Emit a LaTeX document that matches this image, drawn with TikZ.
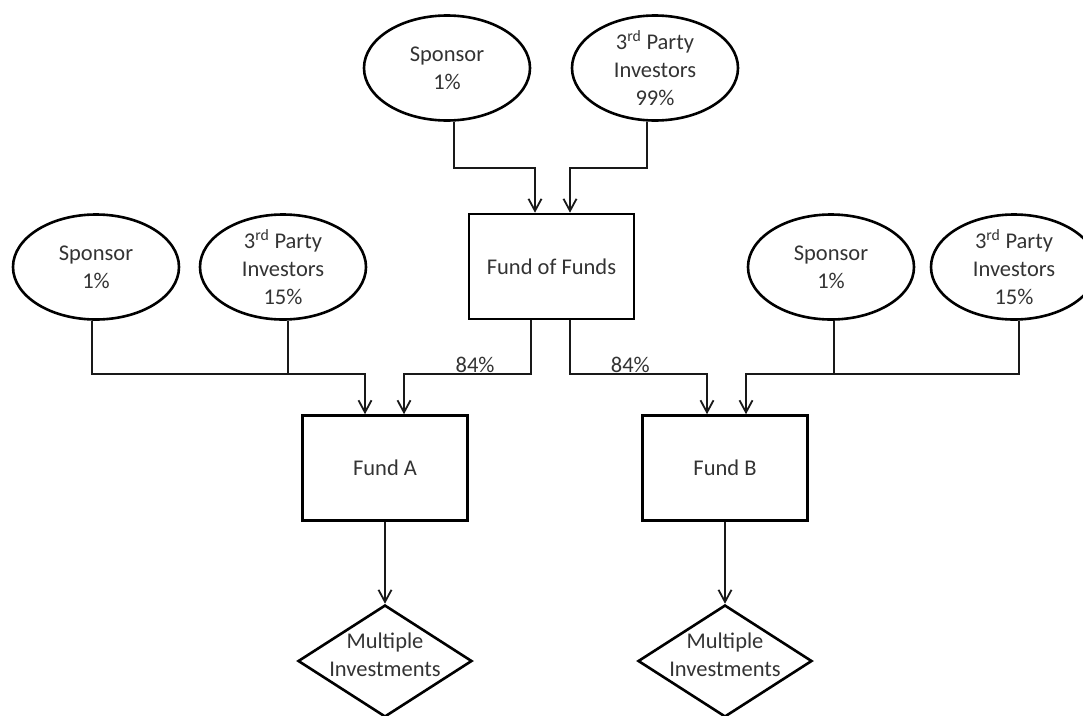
\documentclass[tikz,border=0pt]{standalone}
\usepackage{fontspec}
\setmainfont{Carlito}
\usetikzlibrary{shapes.geometric,arrows.meta,calc}
\newcommand\dtxt{\fontsize{22.5}{28}\selectfont}
\colorlet{txtcol}{black!80}
\begin{document}
\begin{tikzpicture}[x=1pt,y=-1pt,
  ell/.style={draw, ellipse, line width=2.6pt, minimum width=166pt, minimum height=105pt, inner sep=0pt},
  box/.style={draw, rectangle, line width=2.6pt, minimum width=165pt, minimum height=105pt, inner sep=0pt, font=\dtxt, text=txtcol},
  dia/.style={draw, diamond, line width=2.6pt, minimum width=174pt, minimum height=112pt, inner sep=0pt},
  lbl/.style={align=center, font=\dtxt, text=txtcol},
  conn/.style={line width=1.8pt, black!90},
  arr/.style={conn, -{Straight Barb[length=12pt,width=13pt,line width=1.8pt]}},
  pct/.style={above, inner sep=1pt, font=\dtxt, text=txtcol}
]
\useasboundingbox (0,0) rectangle (1083,715);

% top level
\node[ell, label={[lbl]center:{Sponsor\\1\%}}] (spT) at (447,68) {};
\node[ell, label={[lbl]center:{3\textsuperscript{rd} Party\\Investors\\99\%}}] (tpT) at (655,68) {};
\node[box] (fof) at (551.5,266.5) {Fund of Funds};

% side investors
\node[ell, label={[lbl]center:{Sponsor\\1\%}}] (spL) at (96,267) {};
\node[ell, label={[lbl]center:{3\textsuperscript{rd} Party\\Investors\\15\%}}] (tpL) at (283,267) {};
\node[ell, label={[lbl]center:{Sponsor\\1\%}}] (spR) at (831,267) {};
\node[ell, label={[lbl]center:{3\textsuperscript{rd} Party\\Investors\\15\%}}] (tpR) at (1014,267) {};

% funds
\node[box] (fa) at (385,468) {Fund A};
\node[box] (fb) at (725,468) {Fund B};

% investments
\node[dia, label={[lbl, yshift=6pt]center:{Multiple\\Investments}}] (ma) at (385,661) {};
\node[dia, label={[lbl, yshift=6pt]center:{Multiple\\Investments}}] (mb) at (725,661) {};

% connectors into fund of funds
\draw[arr] ([xshift=7pt]spT.south) -- ++(0,46.5) -| ([xshift=-16.5pt]fof.north);
\draw[arr] ([xshift=-8pt]tpT.south) -- ++(0,46.5) -| ([xshift=18.5pt]fof.north);

% connectors into fund A
\draw[arr] ([xshift=-4pt]spL.south) -- ++(0,53.5) -| ([xshift=-20pt]fa.north);
\draw[conn] ([xshift=5pt]tpL.south) -- ++(0,53.5);
\draw[arr] ([xshift=-20.5pt]fof.south) -- ++(0,54) -| node[pct, pos=0.22] {84\%} ([xshift=19pt]fa.north);

% connectors into fund B
\draw[arr] ([xshift=18.5pt]fof.south) -- ++(0,54) -| node[pct, pos=0.22] {84\%} ([xshift=-18pt]fb.north);
\draw[arr] ([xshift=3pt]spR.south) -- ++(0,53.5) -| ([xshift=21pt]fb.north);
\draw[conn] ([xshift=5pt]tpR.south) -- ++(0,53.5) -| ([xshift=3pt]spR.south);

% to investments
\draw[arr] (fa.south) -- (ma.north);
\draw[arr] (fb.south) -- (mb.north);
\end{tikzpicture}
\end{document}
